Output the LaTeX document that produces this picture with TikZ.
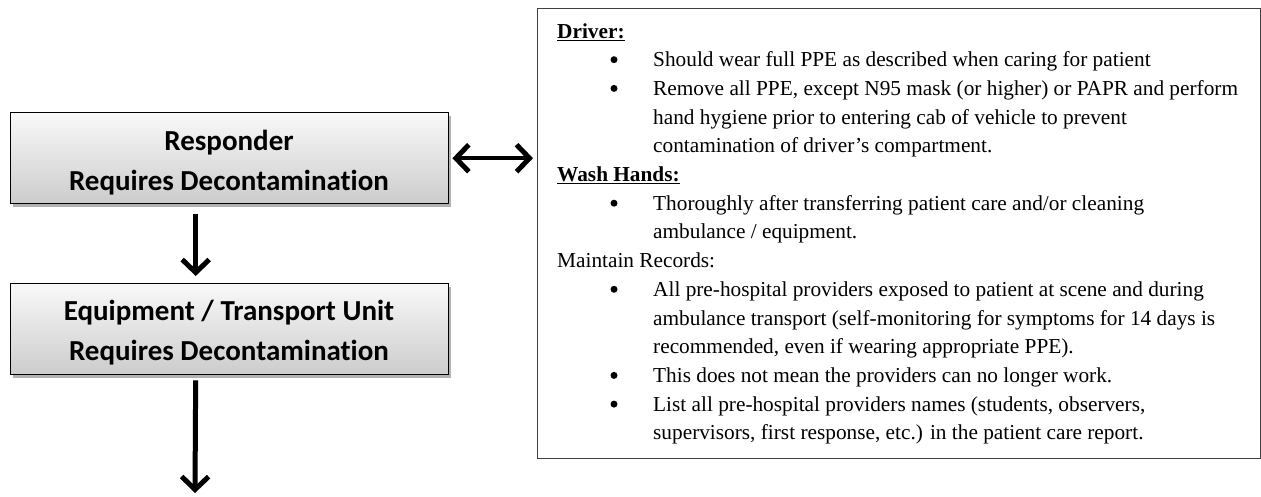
\documentclass[tikz,border=0pt]{standalone}
\usepackage{fontspec}
\setmainfont{Liberation Serif}
\newfontfamily\boxfont[Ligatures=NoCommon]{Carlito}
\usetikzlibrary{arrows.meta,shadows}
\begin{document}
\begin{tikzpicture}[x=1pt,y=-1pt,
  flowbox/.style={draw=black, line width=1.4pt, top color=gray!5, bottom color=gray!40,
    minimum width=438pt, minimum height=91pt, inner sep=0pt, anchor=north west,
    drop shadow={shadow xshift=2.5pt, shadow yshift=-3pt, fill=black, opacity=0.3}},
  boxtext/.style={font=\boxfont\bfseries\fontsize{29}{34}\selectfont, anchor=base, inner sep=0pt},
  barb/.tip={Straight Barb[length=13pt, width=27pt, line width=5pt]},
  flowarrow/.style={line width=5pt, -barb},
  linkarrow/.style={line width=4pt, barb-barb},
  notebox/.style={draw=black!75, line width=1.3pt, minimum width=723pt, minimum height=450pt,
    inner sep=0pt, anchor=north west},
  note/.style={font=\fontsize{21.3}{25}\selectfont, anchor=base west, inner sep=0pt},
  dot/.style={circle, fill=black, inner sep=0pt, minimum size=7pt}
]
\useasboundingbox (0,0) rectangle (1261,496);

% flow boxes
\node[flowbox] (resp) at (10,112) {};
\node[boxtext] (resp1) at (229,150) {Responder};
\node[boxtext] (resp2) at (229,190) {Requires Decontamination};

\node[flowbox] (equip) at (10,283) {};
\node[boxtext] (equip1) at (229,320) {Equipment / Transport Unit};
\node[boxtext] (equip2) at (229,360) {Requires Decontamination};

% notes panel
\node[notebox] (notes) at (537,8) {};

\node[note] (h1) at (557,38) {\textbf{\underline{Driver:}}};
\node[dot] (b1) at (614,59.7) {};
\node[note] (t1) at (653,66.7) {Should wear full PPE as described when caring for patient};
\node[dot] (b2) at (614,88.4) {};
\node[note] (t2) at (653,95.4) {Remove all PPE, except N95 mask (or higher) or PAPR and perform};
\node[note] (t3) at (653,124.1) {hand hygiene prior to entering cab of vehicle to prevent};
\node[note] (t4) at (653,152.8) {contamination of driver’s compartment.};
\node[note] (h2) at (557,181.5) {\textbf{\underline{Wash Hands:}}};
\node[dot] (b3) at (614,203.2) {};
\node[note] (t5) at (653,210.2) {Thoroughly after transferring patient care and/or cleaning};
\node[note] (t6) at (653,238.9) {ambulance / equipment.};
\node[note] (h3) at (557,267.6) {Maintain Records:};
\node[dot] (b4) at (614,289.3) {};
\node[note] (t7) at (653,296.3) {All pre-hospital providers exposed to patient at scene and during};
\node[note] (t8) at (653,325) {ambulance transport (self-monitoring for symptoms for 14 days is};
\node[note] (t9) at (653,353.7) {recommended, even if wearing appropriate PPE).};
\node[dot] (b5) at (614,375.4) {};
\node[note] (t10) at (653,382.4) {This does not mean the providers can no longer work.};
\node[dot] (b6) at (614,404.1) {};
\node[note] (t11) at (653,411.1) {List all pre-hospital providers names (students, observers,};
\node[note] (t12) at (653,439.8) {supervisors, first response, etc.) in the patient care report.};

% connectors
\coordinate (tail) at (195,493);
\draw[flowarrow, shorten <=10pt, shorten >=7pt] ([xshift=-34pt]resp.south) -- ([xshift=-34pt]equip.north);
\draw[flowarrow, shorten <=5pt] ([xshift=-34pt]equip.south) -- (tail);
\draw[linkarrow, shorten <=3pt, shorten >=4pt] (resp.east) -- (notes.west |- resp.east);
\end{tikzpicture}
\end{document}
